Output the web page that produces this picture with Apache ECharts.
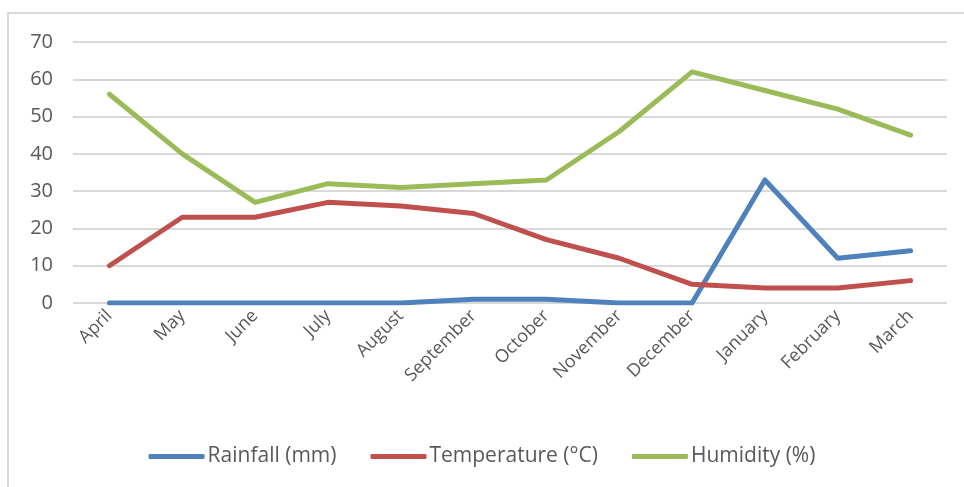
<!DOCTYPE html>
<html>
<head>
<meta charset="utf-8">
<script src="https://cdn.jsdelivr.net/npm/echarts@6/dist/echarts.min.js"></script>
<style>
  html, body { margin: 0; padding: 0; background: #fff; }
  #frame { position: absolute; left: 7px; top: 12px; width: 970px; height: 490px; border: 2px solid #d9d9d9; box-sizing: border-box; }
  #main { position: absolute; left: 0; top: 0; width: 964px; height: 487px; }
</style>
</head>
<body>
<div id="frame"></div>
<div id="main"></div>
<script>
var months = ["April","May","June","July","August","September","October","November","December","January","February","March"];
var rainfall = [0, 0, 0, 0, 0, 1, 1, 0, 0, 33, 12, 14];
var temperature = [10, 23, 23, 27, 26, 24, 17, 12, 5, 4, 4, 6];
var humidity = [56, 40, 27, 32, 31, 32, 33, 46, 62, 57, 52, 45];
var yTicks = [0, 10, 20, 30, 40, 50, 60, 70];

var font = '"Open Sans", "Noto Sans", sans-serif';
var myChart = echarts.init(document.getElementById('main'));

function line(name, data, color) {
  return {
    name: name,
    type: 'line',
    data: data,
    symbol: 'none',
    lineStyle: { width: 5, color: color, cap: 'round', join: 'round' },
    itemStyle: { color: color }
  };
}

var option = {
  animation: false,
  backgroundColor: 'transparent',
  grid: { left: 73, right: 17, top: 42, bottom: 184 },
  legend: {
    top: 441,
    left: 'center',
    itemWidth: 56,
    itemHeight: 5,
    itemGap: 34,
    icon: 'roundRect',
    textStyle: { fontFamily: font, fontSize: 21, color: '#595959', padding: [0, 0, 0, -2] },
    data: ['Rainfall (mm)', 'Temperature (°C)', 'Humidity (%)']
  },
  xAxis: {
    type: 'category',
    data: months,
    boundaryGap: true,
    axisLine: { show: false },
    axisTick: { show: false },
    axisLabel: { rotate: 45, fontFamily: font, fontSize: 18, color: '#595959', margin: 10, interval: 0 }
  },
  yAxis: {
    type: 'value',
    min: yTicks[0],
    max: yTicks[yTicks.length - 1],
    interval: 10,
    axisLine: { show: false },
    axisTick: { show: false },
    axisLabel: { fontFamily: font, fontSize: 20, color: '#595959', margin: 20 },
    splitLine: { lineStyle: { color: '#d9d9d9', width: 2 } }
  },
  series: [
    line('Rainfall (mm)', rainfall, '#4f81bd'),
    line('Temperature (°C)', temperature, '#c0504d'),
    line('Humidity (%)', humidity, '#9bbb59')
  ]
};
myChart.setOption(option);
</script>
</body>
</html>
